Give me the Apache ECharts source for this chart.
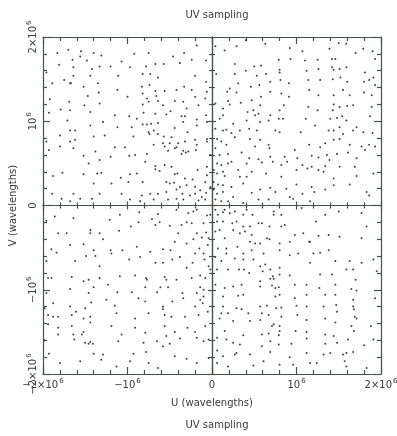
<!DOCTYPE html>
<html><head><meta charset="utf-8">
<script src="https://cdn.jsdelivr.net/npm/echarts@6/dist/echarts.min.js"></script>
<style>html,body{margin:0;padding:0;background:#fff}#c{width:397px;height:436px}</style>
</head><body><div id="c"></div>
<script>
const titleText = 'UV sampling';
const xName = 'U (wavelengths)';
const yName = 'V (wavelengths)';
const axisMin = -2e6, axisMax = 2e6, axisStep = 1e6;
const unit = 1e6; // point lists below are in units of 10^6 wavelengths

const ptsNW = [[-1.83,1.81],[-1.70,1.85],[-1.55,1.83],[-1.40,1.81],[-1.31,1.78],[-0.92,1.80],[-0.75,1.81],[-0.46,1.77],[-0.33,1.81],[-0.18,1.90],[-0.07,1.72],
[-1.65,1.73],[-1.56,1.77],[-1.48,1.72],[-1.07,1.71],[-0.97,1.64],[-0.78,1.65],[-0.67,1.68],[-0.57,1.68],[-0.38,1.69],[-0.24,1.73],
[-1.81,1.67],[-1.64,1.64],[-1.42,1.62],[-1.33,1.65],[-1.20,1.65],
[-1.96,1.58],[-1.75,1.49],[-1.67,1.45],[-1.64,1.54],[-1.44,1.54],[-1.11,1.54],[-0.82,1.56],[-0.73,1.56],[-0.64,1.52],[-0.20,1.54],[-0.07,1.47],
[-1.89,1.45],[-1.68,1.45],[-1.52,1.41],[-1.35,1.45],[-1.12,1.37],[-0.83,1.41],[-0.74,1.43],[-0.67,1.36],[-0.56,1.36],[-0.42,1.37],[-0.33,1.41],[-0.24,1.37],[-0.06,1.35],
[-1.47,1.30],[-1.34,1.34],[-0.82,1.33],[-0.77,1.27],[-0.66,1.30],[-0.20,1.29],[-0.08,1.27],
[-1.92,1.26],[-1.69,1.23],[-1.51,1.19],[-1.33,1.21],[-1.00,1.29],[-0.82,1.20],[-0.75,1.23],[-0.64,1.24],[-0.58,1.19],[-0.44,1.24],[-0.34,1.23],[-0.30,1.15],[-0.16,1.19],
[-1.93,1.10],[-1.79,1.14],[-1.68,1.13],[-1.44,1.11],[-1.15,1.07],[-0.98,1.06],[-0.81,1.10],[-0.67,1.09],[-0.54,1.08],[-0.49,1.12],[-0.36,1.06],[-0.32,1.06],[-0.18,1.02],[-0.07,1.07],
[-1.71,1.01],[-1.29,0.99],[-0.89,1.03],[-0.82,0.96],[-0.77,0.96],[-0.72,0.97],[-0.64,0.98],[-0.34,0.99],[-0.18,0.95],[-0.06,0.99],
[-1.68,0.89],[-1.44,0.95],[-1.12,0.93],[-0.95,0.93],[-0.75,0.87],[-0.69,0.89],[-0.44,0.92],[-0.29,0.87],[-0.06,0.79],
[-1.80,0.83],[-1.62,0.89],[-1.40,0.82],[-1.27,0.83],[-0.93,0.82],[-0.74,0.85],[-0.64,0.85],[-0.57,0.82],[-0.48,0.81],[-0.40,0.74],[-0.32,0.76],[-0.20,0.78],
[-1.96,0.76],[-1.68,0.76],[-1.62,0.78],[-0.58,0.74],[-0.50,0.74],[-0.42,0.69],[-0.34,0.65],[-0.28,0.64],[-0.19,0.66],[-0.06,0.76],
[-1.80,0.70],[-1.64,0.68],[-1.15,0.69],[-1.03,0.69],[-0.69,0.72],[-0.56,0.70],[-0.52,0.65],[-0.18,0.72],
[-1.93,0.66],[-1.52,0.59],[-1.38,0.64],[-1.20,0.58],[-0.98,0.59],[-0.91,0.60],[-0.77,0.61],[-0.44,0.68],[-0.36,0.61],[-0.31,0.63],[-0.02,0.60],
[-1.46,0.50],[-1.33,0.54],[-0.79,0.52],[-0.67,0.47],[-0.56,0.48],[-0.48,0.46],[-0.41,0.38],[-0.06,0.46],
[-1.77,0.39],[-1.52,0.37],[-1.36,0.38],[-1.31,0.39],[-1.08,0.33],[-0.97,0.37],[-0.89,0.38],[-0.67,0.43],[-0.62,0.41],[-0.54,0.28],[-0.44,0.37],[-0.32,0.32],[-0.23,0.31],[-0.17,0.42],[-0.06,0.36],
[-1.88,0.35],[-1.40,0.26],[-1.19,0.26],[-0.99,0.28],[-0.82,0.28],[-0.50,0.26],[-0.45,0.27],[-0.38,0.22],[-0.30,0.24],[-0.20,0.22],[-0.14,0.18],[-0.08,0.28],[-0.02,0.22],
[-1.89,0.14],[-1.64,0.14],[-1.56,0.08],[-1.33,0.14],[-1.07,0.14],[-0.83,0.12],[-0.73,0.14],[-0.64,0.14],[-0.54,0.16],[-0.42,0.19],[-0.35,0.14],[-0.26,0.12],[-0.20,0.14],[-0.12,0.10],[-0.07,0.15],
[-1.78,0.08],[-1.68,0.05],[-1.42,0.08],[-0.97,0.07],[-0.85,0.05],[-0.69,0.07],[-0.52,0.07],[-0.42,0.08],[-0.34,0.07],[-0.16,0.06],[-0.08,0.07]];

const ptsNE = [[0.04,1.89],[0.15,1.84],[0.29,1.89],[0.40,1.96],[0.63,1.92],[0.79,1.73],[0.92,1.87],[0.93,1.74],[1.07,1.83],[1.10,1.72],[1.25,1.73],[1.39,1.86],[1.42,1.74],[1.46,1.74],[1.50,1.93],[1.59,1.92],[1.70,1.81],[1.79,1.86],[1.90,1.83],[1.93,1.74],
[0.27,1.68],[0.40,1.60],[0.50,1.65],[0.58,1.66],[0.53,1.54],[0.64,1.56],[0.80,1.61],[0.80,1.58],[1.12,1.60],[1.26,1.62],[1.42,1.64],[1.44,1.61],[1.51,1.62],[1.59,1.64],[1.81,1.58],[1.86,1.49],
[0.05,1.56],[0.27,1.56],[0.18,1.35],[0.21,1.39],[0.31,1.45],[0.46,1.41],[0.56,1.43],[0.69,1.47],[0.81,1.49],[0.91,1.45],[1.14,1.49],[1.28,1.49],[1.43,1.50],[1.52,1.52],[1.60,1.47],[1.80,1.47],[1.91,1.52],
[0.19,1.24],[0.29,1.34],[0.47,1.25],[0.58,1.29],[0.69,1.35],[0.82,1.33],[0.91,1.29],[1.15,1.37],[1.26,1.31],[1.44,1.31],[1.55,1.37],[1.63,1.31],[1.80,1.34],[1.89,1.31],[1.93,1.43],
[0.04,1.21],[0.13,1.15],[0.21,1.20],[0.34,1.22],[0.42,1.11],[0.49,1.13],[0.57,1.19],[0.55,1.09],[0.69,1.07],[0.80,1.13],[0.85,1.19],[1.14,1.17],[1.25,1.13],[1.43,1.13],[1.44,1.20],[1.51,1.17],[1.60,1.18],[1.67,1.19],[1.89,1.17],
[0.09,1.03],[0.13,1.07],[0.25,0.97],[0.41,1.01],[0.51,1.07],[0.57,0.99],[0.67,1.01],[0.79,1.03],[0.84,1.03],[1.11,1.03],[1.22,0.95],[1.40,1.03],[1.48,1.04],[1.54,1.06],[1.59,1.01],[1.71,0.93],[1.87,1.06],
[0.04,0.91],[0.13,0.89],[0.17,0.90],[0.23,0.86],[0.33,0.89],[0.44,0.91],[0.53,0.89],[0.75,0.89],[0.80,0.87],[1.05,0.87],[1.38,0.89],[1.44,0.89],[1.51,0.93],[1.55,0.85],[1.67,0.89],[1.79,0.87],[1.90,0.86],
[0.06,0.79],[0.11,0.76],[0.17,0.72],[0.27,0.81],[0.45,0.79],[0.51,0.70],[0.57,0.78],[0.67,0.72],[0.68,0.68],[0.98,0.66],[1.15,0.72],[1.28,0.69],[1.34,0.74],[1.44,0.78],[1.51,0.79],[1.63,0.72],[1.77,0.70],[1.86,0.72],[1.93,0.70],
[0.04,0.68],[0.09,0.60],[0.19,0.61],[0.35,0.63],[0.44,0.56],[0.55,0.55],[0.69,0.58],[0.86,0.58],[1.01,0.56],[1.18,0.59],[1.26,0.57],[1.36,0.60],[1.39,0.54],[1.48,0.61],[1.61,0.63],[1.71,0.56],[1.81,0.66],
[0.06,0.50],[0.11,0.48],[0.19,0.50],[0.23,0.52],[0.41,0.50],[0.59,0.51],[0.72,0.52],[0.82,0.48],[0.89,0.52],[1.07,0.48],[1.18,0.46],[1.34,0.47],[1.51,0.46],[1.69,0.46],
[0.02,0.42],[0.06,0.38],[0.13,0.40],[0.15,0.35],[0.31,0.42],[0.33,0.34],[0.41,0.34],[0.47,0.40],[0.64,0.38],[0.82,0.34],[1.00,0.42],[1.13,0.44],[1.26,0.42],[1.32,0.40],[1.44,0.32],[1.71,0.35],[1.91,0.38],
[0.02,0.28],[0.07,0.25],[0.13,0.24],[0.23,0.22],[0.37,0.26],[0.69,0.21],[0.88,0.20],[1.00,0.25],[1.18,0.22],[1.44,0.24],[1.63,0.25],
[0.02,0.19],[0.06,0.14],[0.13,0.16],[0.25,0.10],[0.47,0.15],[0.57,0.19],[0.75,0.16],[0.92,0.10],[1.07,0.14],[1.21,0.16],[1.34,0.19],[1.83,0.16],[1.86,0.12],
[0.04,0.07],[0.11,0.05],[0.19,0.05],[0.37,0.03],[0.55,0.07],[0.67,0.07],[0.96,0.08],[1.16,0.05]];

const ptsSW = [[-1.86,-0.13],[-1.64,-0.15],[-1.21,-0.17],[-1.09,-0.11],[-0.86,-0.08],[-0.71,-0.16],[-0.67,-0.23],[-0.64,-0.10],[-0.42,-0.05],[-0.28,-0.09],[-0.22,-0.07],[-0.24,-0.21],[-0.18,-0.05],[-0.10,-0.21],[-0.06,-0.12],[-0.02,-0.11],
[-1.96,-0.18],[-1.82,-0.33],[-1.72,-0.33],[-1.44,-0.29],[-1.44,-0.33],[-1.33,-0.33],[-1.29,-0.40],[-1.10,-0.30],[-0.96,-0.25],[-0.87,-0.20],[-0.62,-0.20],[-0.50,-0.24],[-0.40,-0.33],[-0.36,-0.23],[-0.30,-0.20],[-0.18,-0.33],[-0.12,-0.38],[-0.07,-0.32],[-0.04,-0.39],
[-1.90,-0.52],[-1.84,-0.56],[-1.68,-0.47],[-1.52,-0.46],[-1.40,-0.53],[-1.20,-0.53],[-1.06,-0.53],[-0.89,-0.49],[-0.73,-0.55],[-0.58,-0.52],[-0.49,-0.53],[-0.44,-0.43],[-0.30,-0.45],[-0.22,-0.40],[-0.15,-0.51],[-0.10,-0.57],[-0.05,-0.47],
[-1.96,-0.66],[-1.62,-0.66],[-1.49,-0.60],[-1.38,-0.60],[-1.33,-0.72],[-1.19,-0.57],[-0.98,-0.64],[-0.85,-0.61],[-0.67,-0.68],[-0.58,-0.68],[-0.47,-0.64],[-0.38,-0.61],[-0.30,-0.74],[-0.23,-0.68],[-0.20,-0.57],[-0.09,-0.64],[-0.04,-0.72],
[-1.94,-0.86],[-1.90,-0.86],[-1.66,-0.85],[-1.52,-0.90],[-1.46,-0.88],[-1.33,-0.86],[-1.23,-0.94],[-1.09,-0.84],[-0.91,-0.83],[-0.78,-0.86],[-0.77,-0.88],[-0.56,-0.85],[-0.54,-0.88],[-0.42,-0.88],[-0.24,-0.86],[-0.14,-0.83],[-0.14,-0.97],[-0.08,-0.86],[-0.02,-0.76],
[-1.96,-1.04],[-1.68,-0.99],[-1.46,-1.04],[-1.40,-0.97],[-1.12,-1.03],[-0.95,-1.03],[-0.79,-0.97],[-0.65,-1.03],[-0.61,-0.97],[-0.52,-0.97],[-0.35,-1.04],[-0.18,-1.04],[-0.10,-1.00],[-0.10,-1.08],
[-1.98,-1.22],[-1.88,-1.16],[-1.68,-1.20],[-1.50,-1.22],[-1.43,-1.15],[-1.25,-1.12],[-1.15,-1.19],[-0.87,-1.10],[-0.79,-1.14],[-0.58,-1.20],[-0.58,-1.23],[-0.47,-1.14],[-0.34,-1.10],[-0.20,-1.20],[-0.14,-1.12],[-0.11,-1.16],
[-1.94,-1.30],[-1.88,-1.32],[-1.82,-1.32],[-1.66,-1.30],[-1.61,-1.26],[-1.52,-1.34],[-1.44,-1.32],[-1.44,-1.39],[-1.13,-1.28],[-0.91,-1.34],[-0.75,-1.28],[-0.56,-1.30],[-0.48,-1.32],[-0.32,-1.32],[-0.16,-1.30],[-0.05,-1.26],
[-1.94,-1.41],[-1.82,-1.45],[-1.66,-1.43],[-1.54,-1.53],[-1.52,-1.50],[-1.50,-1.63],[-1.44,-1.62],[-1.41,-1.64],[-1.19,-1.43],[-1.07,-1.53],[-0.91,-1.45],[-0.79,-1.51],[-0.56,-1.43],[-0.54,-1.55],[-0.44,-1.50],[-0.29,-1.45],[-0.20,-1.50],[-0.08,-1.43],
[-1.98,-1.60],[-1.82,-1.53],[-1.64,-1.53],[-1.63,-1.59],[-1.46,-1.64],[-1.40,-1.76],[-1.29,-1.77],[-1.11,-1.61],[-0.93,-1.76],[-0.81,-1.63],[-0.78,-1.74],[-0.65,-1.61],[-0.58,-1.67],[-0.50,-1.64],[-0.38,-1.58],[-0.18,-1.57],[-0.10,-1.61],[-0.04,-1.59],
[-1.93,-1.76],[-1.80,-1.87],[-1.56,-1.85],[-1.31,-1.83],[-1.13,-1.91],[-0.97,-1.85],[-0.75,-1.87],[-0.64,-1.93],[-0.44,-1.79],[-0.30,-1.82],[-0.18,-1.87],[-0.04,-1.81]];

const ptsSE = [[0.04,-0.05],[0.07,-0.11],[0.13,-0.08],[0.15,-0.05],[0.21,-0.09],[0.27,-0.07],[0.37,-0.11],[0.41,-0.05],[0.48,-0.11],[0.73,-0.07],[0.73,-0.11],[0.82,-0.11],[1.06,-0.03],[1.23,-0.19],[1.34,-0.11],[1.50,-0.07],[1.77,-0.09],
[0.06,-0.19],[0.13,-0.19],[0.24,-0.21],[0.29,-0.19],[0.37,-0.25],[0.45,-0.25],[0.55,-0.21],[0.59,-0.21],[0.68,-0.25],[0.82,-0.25],[0.86,-0.23],[0.98,-0.35],[1.08,-0.33],[1.15,-0.43],[1.26,-0.36],[1.38,-0.35],[1.51,-0.37],[1.77,-0.39],[1.83,-0.25],
[0.04,-0.31],[0.09,-0.29],[0.15,-0.39],[0.25,-0.29],[0.33,-0.33],[0.39,-0.31],[0.47,-0.35],[0.45,-0.43],[0.51,-0.45],[0.57,-0.45],[0.65,-0.39],[0.68,-0.40],[0.80,-0.45],[0.92,-0.43],[1.16,-0.43],
[0.07,-0.51],[0.17,-0.51],[0.17,-0.57],[0.30,-0.49],[0.37,-0.57],[0.47,-0.53],[0.61,-0.57],[0.80,-0.53],[0.92,-0.59],[1.02,-0.57],[1.20,-0.57],[1.28,-0.56],[1.38,-0.53],[1.63,-0.66],[1.77,-0.68],[1.91,-0.64],
[0.04,-0.61],[0.11,-0.66],[0.27,-0.63],[0.37,-0.64],[0.49,-0.64],[0.57,-0.72],[0.63,-0.70],[0.69,-0.76],[0.80,-0.74],[1.16,-0.68],[1.46,-0.66],[1.59,-0.76],[1.67,-0.76],[1.95,-0.78],
[0.06,-0.76],[0.19,-0.76],[0.32,-0.76],[0.38,-0.76],[0.44,-0.80],[0.60,-0.78],[0.72,-0.84],[0.73,-0.87],[0.69,-0.87],[0.80,-0.82],[0.92,-0.83],[1.28,-0.82],[1.42,-0.82],[1.70,-0.88],
[0.04,-0.94],[0.15,-0.98],[0.25,-0.96],[0.35,-0.94],[0.57,-0.90],[0.57,-0.96],[0.71,-0.95],[0.75,-0.98],[0.79,-0.97],[0.98,-0.94],[1.12,-0.94],[1.27,-0.98],[1.46,-0.94],[1.65,-0.99],[1.71,-1.01],
[0.13,-1.08],[0.31,-1.07],[0.37,-1.06],[0.75,-1.08],[0.80,-1.06],[0.98,-1.10],[1.12,-1.06],[1.34,-1.06],[1.46,-1.06],[1.67,-1.12],[1.93,-1.10],
[0.13,-1.20],[0.29,-1.22],[0.35,-1.23],[0.57,-1.20],[0.65,-1.19],[0.76,-1.22],[0.82,-1.21],[1.00,-1.19],[1.12,-1.20],[1.32,-1.20],[1.47,-1.18],[1.67,-1.20],[1.68,-1.23],
[0.11,-1.28],[0.19,-1.28],[0.43,-1.28],[0.59,-1.28],[0.67,-1.30],[0.82,-1.32],[1.01,-1.30],[1.34,-1.34],[1.48,-1.26],[1.69,-1.32],[1.71,-1.34],
[0.09,-1.34],[0.25,-1.37],[0.45,-1.37],[0.57,-1.36],[0.71,-1.43],[0.73,-1.41],[0.80,-1.43],[1.12,-1.36],[1.46,-1.39],[1.65,-1.43],[1.88,-1.43],
[0.15,-1.49],[0.37,-1.54],[0.59,-1.53],[0.67,-1.52],[0.79,-1.54],[0.80,-1.49],[0.99,-1.49],[1.12,-1.50],[1.34,-1.53],[1.44,-1.55],[1.68,-1.49],
[0.06,-1.57],[0.17,-1.59],[0.25,-1.63],[0.33,-1.65],[0.59,-1.67],[0.69,-1.61],[0.79,-1.65],[0.94,-1.64],[1.12,-1.58],[1.34,-1.64],[1.48,-1.63],[1.61,-1.59],[1.80,-1.66],[1.91,-1.59],
[0.06,-1.72],[0.13,-1.79],[0.27,-1.77],[0.29,-1.75],[0.45,-1.77],[0.61,-1.85],[0.69,-1.74],[0.92,-1.80],[1.12,-1.75],[1.32,-1.77],[1.40,-1.75],[1.55,-1.77],[1.59,-1.75],[1.67,-1.74],
[0.06,-1.87],[0.19,-1.91],[0.49,-1.90],[0.80,-1.89],[0.96,-1.89],[1.16,-1.87],[1.24,-1.87],[1.57,-1.85],[1.59,-1.91],[1.83,-1.93]];

const frameColor = '#45524a';
const textColor = '#3a3a3a';
const font = 'DejaVu Sans';

function powLabel(v) {
  const m = Math.round(v / unit);
  if (m === 0) return '{n|0}';
  const sign = m < 0 ? '\u2212' : '';
  const a = Math.abs(m);
  return '{n|' + sign + (a === 1 ? '' : a + '\u00d7') + '10}{s|6}';
}
const richStyle = {
  n: {fontSize: 10, fontFamily: font, color: textColor, lineHeight: 12, verticalAlign: 'bottom'},
  s: {fontSize: 7, fontFamily: font, color: textColor, lineHeight: 12, verticalAlign: 'top', padding: [0, 0, 0, 1]}
};

function tickStyle(len, minorLen, inside) {
  return {
    axisTick: {show: true, inside: inside, length: len, lineStyle: {color: frameColor, width: 1.2}},
    minorTick: {show: true, splitNumber: 5, length: minorLen, lineStyle: {color: frameColor, width: 1.2}}
  };
}
function frameAxis(pos, extra) {
  return Object.assign({
    type: 'value', position: pos, min: axisMin, max: axisMax, interval: axisStep,
    axisLine: {show: true, onZero: false, lineStyle: {color: frameColor, width: 1.2}},
    splitLine: {show: false}, minorSplitLine: {show: false},
    axisLabel: {show: false}
  }, tickStyle(7, 4, true), extra || {});
}
function centerAxis(pos, inside) {
  return Object.assign({
    type: 'value', position: pos, min: axisMin, max: axisMax, interval: axisStep,
    axisLine: {show: true, onZero: true, onZeroAxisIndex: 0, lineStyle: {color: frameColor, width: 1.2}},
    splitLine: {show: false}, minorSplitLine: {show: false},
    axisLabel: {show: false}
  }, tickStyle(4, 3, inside));
}

const toData = arr => arr.map(p => [p[0] * unit, p[1] * unit]);
const allPts = [].concat(toData(ptsNW), toData(ptsNE), toData(ptsSW), toData(ptsSE));
const titleStyle = {fontSize: 10, fontWeight: 'normal', color: textColor, fontFamily: font};

const chart = echarts.init(document.getElementById('c'), null, {renderer: 'canvas'});
chart.setOption({
  animation: false,
  backgroundColor: '#fff',
  title: [
    {text: titleText, left: 212, top: 5, textAlign: 'center', textStyle: titleStyle},
    {text: titleText, left: 212, top: 415, textAlign: 'center', textStyle: titleStyle}
  ],
  grid: {left: 43, right: 16, top: 37, bottom: 62, containLabel: false, outerBoundsMode: 'none'},
  xAxis: [
    frameAxis('bottom', {
      axisLabel: {show: true, margin: 4, formatter: powLabel, rich: richStyle, showMinLabel: true, showMaxLabel: true},
      name: xName, nameLocation: 'middle', nameGap: 24,
      nameTextStyle: {fontSize: 10, color: textColor, fontFamily: font}}),
    frameAxis('top'),
    centerAxis('bottom', true),
    centerAxis('bottom', false)
  ],
  yAxis: [
    frameAxis('left', {
      axisLabel: {show: true, margin: 5, rotate: 90, formatter: powLabel, rich: richStyle, showMinLabel: true, showMaxLabel: true},
      name: yName, nameLocation: 'middle', nameGap: 16,
      nameTextStyle: {fontSize: 10, color: textColor, fontFamily: font}}),
    frameAxis('right'),
    centerAxis('left', true),
    centerAxis('left', false)
  ],
  series: [{
    type: 'scatter', xAxisIndex: 0, yAxisIndex: 0,
    data: allPts, symbol: 'circle', symbolSize: 2,
    itemStyle: {color: '#2e2e2e', opacity: 0.9},
    silent: true
  }]
});
</script></body></html>
